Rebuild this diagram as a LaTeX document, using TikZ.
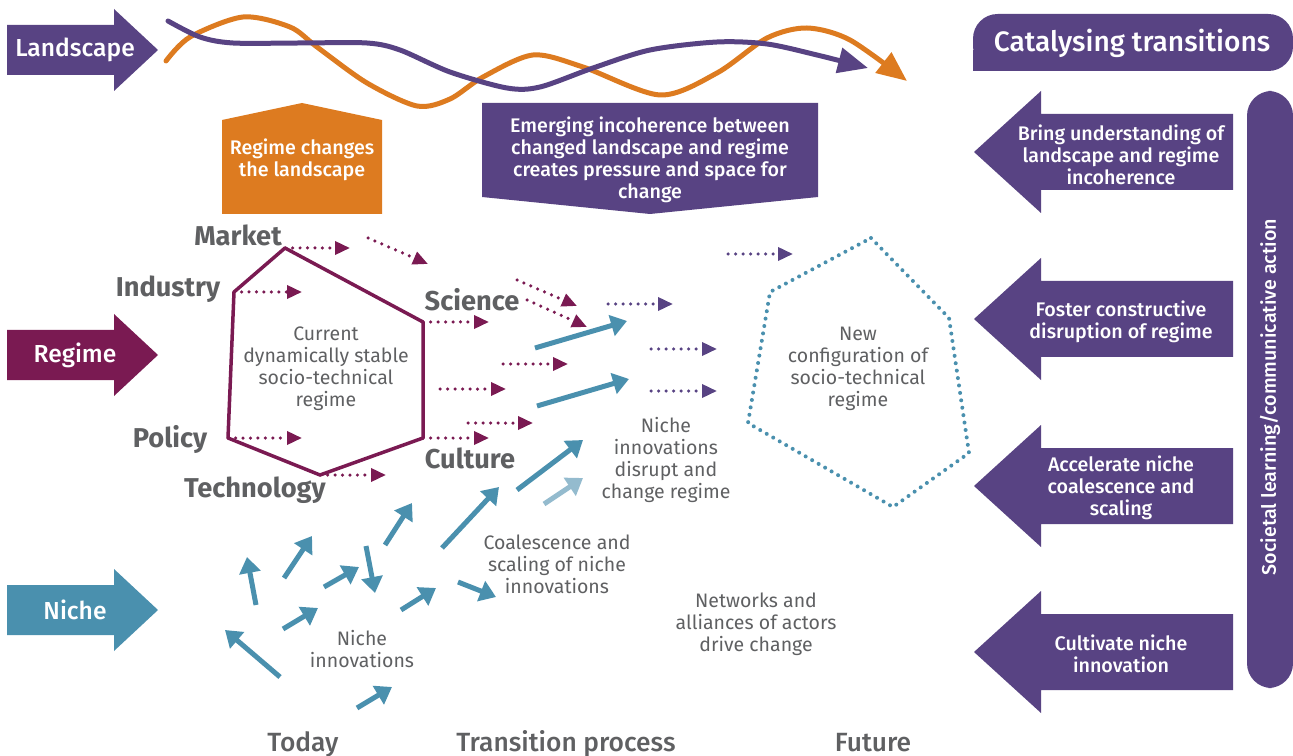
\documentclass[tikz,border=0pt]{standalone}
\usepackage{fontspec}
\setmainfont{Fira Sans}
\newfontfamily\medfont{Fira Sans Medium}
\usetikzlibrary{arrows.meta}

\definecolor{purp}{RGB}{88,67,131}
\definecolor{maroon}{RGB}{122,26,82}
\definecolor{nichet}{RGB}{74,144,174}
\definecolor{nichelight}{RGB}{148,187,206}
\definecolor{orng}{RGB}{221,123,32}
\definecolor{txtgray}{RGB}{95,96,98}

\def\rightblock(#1)#2{\fill[#2] (7,#1-25) -- (114,#1-25) -- (114,#1-41) -- (158,#1) -- (114,#1+41) -- (114,#1+25) -- (7,#1+25) -- cycle;}
\def\leftblock(#1){\fill[purp] (974,#1) -- (1041,#1-61) -- (1041,#1-38) -- (1233,#1-38) -- (1233,#1+38) -- (1041,#1+38) -- (1041,#1+61) -- cycle;}

\begin{document}
\begin{tikzpicture}[x=0.02cm, y=-0.02cm,
	whitetxt/.style={text=white, font=\medfont\fontsize{11.2}{12.5}\selectfont, align=center},
	graytxt/.style={text=txtgray, font=\fontsize{11.1}{12.5}\selectfont, align=center},
	facet/.style={text=txtgray, font=\bfseries\fontsize{15.5}{17}\selectfont},
	timelabel/.style={text=txtgray, font=\medfont\fontsize{15}{17}\selectfont, anchor=base},
	wave/.style={line width=0.1cm, line cap=round, -{Triangle[length=0.6cm,width=0.5cm]}},
	regflow/.style={maroon, line width=0.07cm, line cap=round, dash pattern=on 0pt off 0.15cm, -{Triangle[length=0.3cm,width=0.26cm]}},
	newflow/.style={regflow, purp},
	nicheflow/.style={nichet, line width=0.1cm, -{Triangle[length=0.32cm,width=0.42cm]}}]
		%%%%% START %%%%%
		\useasboundingbox (0,0) rectangle (1293,756);
		
		% levels
		\rightblock(50){purp}
		\rightblock(355){maroon}
		\rightblock(610){nichet}
		\node[whitetxt, font=\medfont\fontsize{14}{15}\selectfont] (landscape) at (75,50) {Landscape};
		\node[whitetxt, font=\medfont\fontsize{14}{15}\selectfont] (regime) at (75,355) {Regime};
		\node[whitetxt, font=\medfont\fontsize{14}{15}\selectfont] (niche) at (75,610) {Niche};
		
		% landscape waves
		\draw[wave, orng] plot[smooth] coordinates {(166,61) (190,37) (243,17) (290,27) (317,47) (367,83) (417,106) (450,99) (483,77) (533,55) (583,67) (660,95) (717,73) (767,38) (807,28) (850,40) (907,81)};
		\draw[wave, purp] plot[smooth] coordinates {(168,21) (200,37) (233,43) (300,43) (367,43) (400,50) (450,72) (507,88) (540,87) (593,68) (650,50) (717,42) (767,44) (817,55) (868,68)};
		
		\fill[orng] (222,120) -- (302,103) -- (382,120) -- (382,214) -- (222,214) -- cycle;
		\node[whitetxt] (changes) at (302,160) {Regime changes\\the landscape};
		
		\fill[purp] (482,103) -- (818,103) -- (818,197) -- (650,214) -- (482,197) -- cycle;
		\node[whitetxt] (incoherence) at (650,160) {Emerging incoherence between\\changed landscape and regime\\creates pressure and space for\\change};
		
		% current regime
		\coordinate (market) at (285,248);
		\coordinate (science) at (423,322);
		\coordinate (culture) at (423,438);
		\coordinate (technology) at (320,475);
		\coordinate (policy) at (228,438);
		\coordinate (industry) at (234,292);
		\draw[maroon, line width=0.07cm, line join=round] (market) -- (science) -- (culture) -- (technology) -- (policy) -- (industry) -- cycle;
		
		\node[facet] (marketlbl) at (238,235) {Market};
		\node[facet] (industrylbl) at (168,289) {Industry};
		\node[facet] (sciencelbl) at (472,300) {Science};
		\node[facet] (culturelbl) at (470,458) {Culture};
		\node[facet] (policylbl) at (170,439) {Policy};
		\node[facet] (technologylbl) at (255,490) {Technology};
		\node[graytxt] (current) at (326,369) {Current\\dynamically stable\\socio-technical\\regime};
		
		\draw[regflow] (market) -- ++(65,0);
		\draw[regflow] (industry) -- ++(68,0);
		\draw[regflow] (science) -- ++(66,0);
		\draw[regflow] (policy) -- ++(74,0);
		\draw[regflow] (culture) -- ++(66,0);
		\draw[regflow] (technology) -- ++(66,0);
		\draw[regflow] (368,238) -- (428,264);
		\draw[regflow] (517,280) -- (577,306);
		\draw[regflow] (527,300) -- (587,327);
		\draw[regflow] (503,364) -- (568,364);
		\draw[regflow] (440,389) -- (506,389);
		\draw[regflow] (468,423) -- (533,423);
		
		\draw[newflow] (728,254) -- (793,254);
		\draw[newflow] (608,304) -- (673,304);
		\draw[newflow] (651,349) -- (717,349);
		\draw[newflow] (651,391) -- (717,391);
		
		% new regime
		\draw[nichet, line width=0.08cm, line cap=round, dash pattern=on 0pt off 0.15cm] (871,238) -- (949,318) -- (969,453) -- (893,507) -- (748,423) -- (770,292) -- cycle;
		\node[graytxt] (newconfig) at (858,369) {New\\configuration of\\socio-technical\\regime};
		
		% niche arrows
		\draw[nicheflow] (535,348) -- (627,321);
		\draw[nicheflow] (537,406) -- (629,379);
		\draw[nicheflow] (517,490) -- (583,440);
		\draw[nicheflow, nichelight] (544,504) -- (583,478);
		\draw[nicheflow] (442,548) -- (499,487);
		\draw[nicheflow] (385,545) -- (412,503);
		\draw[nicheflow] (284,578) -- (312,536);
		\draw[nicheflow] (256,605) -- (247,557);
		\draw[nicheflow] (324,587) -- (359,567);
		\draw[nicheflow] (366,546) -- (375,593);
		\draw[nicheflow] (283,629) -- (318,608);
		\draw[nicheflow] (401,610) -- (436,588);
		\draw[nicheflow] (458,582) -- (496,597);
		\draw[nicheflow] (280,677) -- (225,630);
		\draw[nicheflow] (357,708) -- (392,687);
		
		\node[graytxt] (disrupt) at (666,460) {Niche\\innovations\\disrupt and\\change regime};
		\node[graytxt] (coalescence) at (557,564) {Coalescence and\\scaling of niche\\innovations};
		\node[graytxt] (innovations) at (362,649) {Niche\\innovations};
		\node[graytxt] (networks) at (756,624) {Networks and\\alliances of actors\\drive change};
		
		\node[timelabel] (today) at (303,751) {Today};
		\node[timelabel] (process) at (566,751) {Transition process};
		\node[timelabel] (future) at (873,751) {Future};
		
		% catalysing column
		\fill[purp, rounded corners=14] (973,14) rectangle (1293,71);
		\fill[purp] (973,50) rectangle (1000,71);
		\node[whitetxt, font=\medfont\fontsize{16}{18}\selectfont] (catalysing) at (1132,43) {Catalysing transitions};
		
		\fill[purp, rounded corners=14] (1247,91) rectangle (1293,688);
		\node[whitetxt, rotate=90] (societal) at (1270,397) {Societal learning/communicative action};
		
		\leftblock(152)
		\leftblock(319)
		\leftblock(486)
		\leftblock(652)
		\node[whitetxt] (understanding) at (1121,155) {Bring understanding of\\landscape and regime\\incoherence};
		\node[whitetxt] (disruption) at (1121,322) {Foster constructive\\disruption of regime};
		\node[whitetxt] (accelerate) at (1121,488) {Accelerate niche\\coalescence and\\scaling};
		\node[whitetxt] (cultivate) at (1121,654) {Cultivate niche\\innovation};
		%%%%% END %%%%%
\end{tikzpicture}
\end{document}
